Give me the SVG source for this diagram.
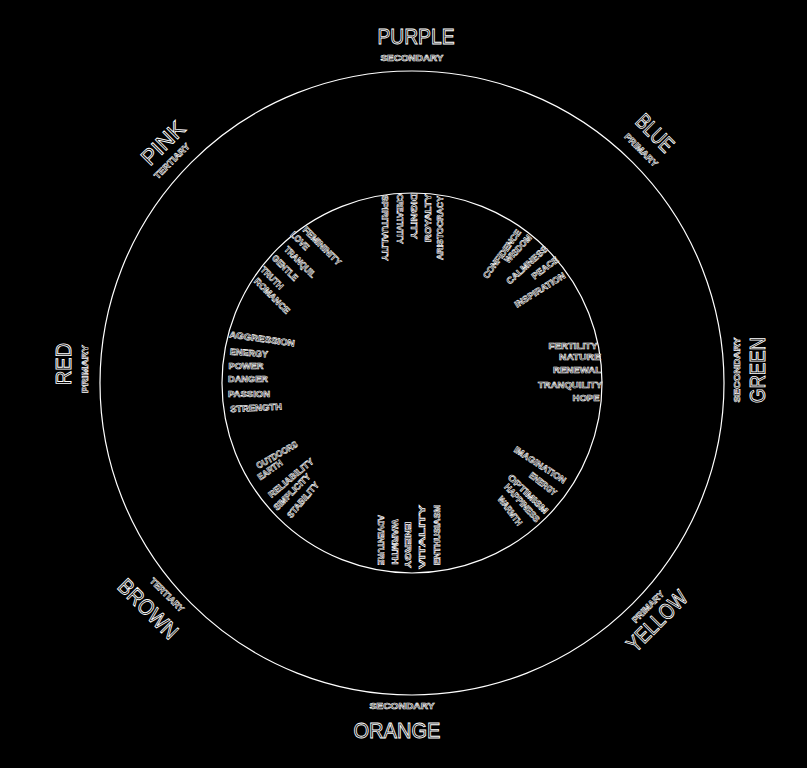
<svg xmlns="http://www.w3.org/2000/svg" width="807" height="768" viewBox="0 0 807 768">
<style>
.m{font-family:"Liberation Sans","DejaVu Sans",sans-serif;font-size:22px;fill:#000;stroke:#fff;stroke-width:0.9;text-anchor:middle;dominant-baseline:central}
.s{font-family:"Liberation Sans","DejaVu Sans",sans-serif;font-size:9px;font-weight:bold;fill:#000;stroke:#fff;stroke-width:0.6;text-anchor:middle;dominant-baseline:central}
.w{font-family:"Liberation Sans","DejaVu Sans",sans-serif;font-size:9px;font-weight:bold;fill:#000;stroke:#fff;stroke-width:0.6;text-anchor:middle;dominant-baseline:central}
.ring{fill:none;stroke:#fff;stroke-width:1.2}
</style>
<rect width="807" height="768" fill="#000"/>
<g id="rings">
<circle class="ring" cx="412" cy="383" r="312"/>
<circle class="ring" cx="412" cy="383" r="190"/>
</g>
<g id="purple">
<text class="m" transform="translate(416,36)" textLength="77" lengthAdjust="spacingAndGlyphs">PURPLE</text>
<text class="s" transform="translate(412,58)" textLength="63" lengthAdjust="spacingAndGlyphs">SECONDARY</text>
<text class="w" transform="translate(385,228) rotate(90)" textLength="66" lengthAdjust="spacingAndGlyphs">SPIRITUALITY</text>
<text class="w" transform="translate(400,219) rotate(90)" textLength="50" lengthAdjust="spacingAndGlyphs">CREATIVITY</text>
<text class="w" transform="translate(414,216) rotate(90)" textLength="46" lengthAdjust="spacingAndGlyphs">DIGNITY</text>
<text class="w" transform="translate(428,218) rotate(-90)" textLength="48" lengthAdjust="spacingAndGlyphs">ROYALTY</text>
<text class="w" transform="translate(440,228) rotate(-90)" textLength="64" lengthAdjust="spacingAndGlyphs">ARISTOCRACY</text>
</g>
<g id="blue">
<text class="m" transform="translate(655,133) rotate(45)" textLength="44" lengthAdjust="spacingAndGlyphs">BLUE</text>
<text class="s" transform="translate(641,150) rotate(45)" textLength="43" lengthAdjust="spacingAndGlyphs">PRIMARY</text>
<text class="w" transform="translate(502,254) rotate(-54)" textLength="58" lengthAdjust="spacingAndGlyphs">CONFIDENCE</text>
<text class="w" transform="translate(518,249) rotate(-47)" textLength="35" lengthAdjust="spacingAndGlyphs">WISDOM</text>
<text class="w" transform="translate(527,265) rotate(-42)" textLength="52" lengthAdjust="spacingAndGlyphs">CALMNESS</text>
<text class="w" transform="translate(545,268) rotate(-37)" textLength="31" lengthAdjust="spacingAndGlyphs">PEACE</text>
<text class="w" transform="translate(540,290) rotate(-32)" textLength="58" lengthAdjust="spacingAndGlyphs">INSPIRATION</text>
</g>
<g id="green">
<text class="m" transform="translate(757,370) rotate(-90)" textLength="66" lengthAdjust="spacingAndGlyphs">GREEN</text>
<text class="s" transform="translate(737,370) rotate(-90)" textLength="65" lengthAdjust="spacingAndGlyphs">SECONDARY</text>
<text class="w" transform="translate(573,346)" textLength="49" lengthAdjust="spacingAndGlyphs">FERTILITY</text>
<text class="w" transform="translate(580,357)" textLength="42" lengthAdjust="spacingAndGlyphs">NATURE</text>
<text class="w" transform="translate(577,370)" textLength="48" lengthAdjust="spacingAndGlyphs">RENEWAL</text>
<text class="w" transform="translate(570,385)" textLength="64" lengthAdjust="spacingAndGlyphs">TRANQUILITY</text>
<text class="w" transform="translate(586,398)" textLength="27" lengthAdjust="spacingAndGlyphs">HOPE</text>
</g>
<g id="yellow">
<text class="m" transform="translate(657,621) rotate(-45)" textLength="76" lengthAdjust="spacingAndGlyphs">YELLOW</text>
<text class="s" transform="translate(648,607) rotate(-45)" textLength="41" lengthAdjust="spacingAndGlyphs">PRIMARY</text>
<text class="w" transform="translate(540,465) rotate(33)" textLength="60" lengthAdjust="spacingAndGlyphs">IMAGINATION</text>
<text class="w" transform="translate(543,484) rotate(38)" textLength="32" lengthAdjust="spacingAndGlyphs">ENERGY</text>
<text class="w" transform="translate(528,494) rotate(44)" textLength="52" lengthAdjust="spacingAndGlyphs">OPTIMISM</text>
<text class="w" transform="translate(522,503) rotate(48)" textLength="48" lengthAdjust="spacingAndGlyphs">HAPPINESS</text>
<text class="w" transform="translate(510,511) rotate(53)" textLength="34" lengthAdjust="spacingAndGlyphs">WARMTH</text>
</g>
<g id="orange">
<text class="m" transform="translate(397,730)" textLength="87" lengthAdjust="spacingAndGlyphs">ORANGE</text>
<text class="s" transform="translate(402,706)" textLength="65" lengthAdjust="spacingAndGlyphs">SECONDARY</text>
<text class="w" transform="translate(381,540) rotate(90)" textLength="50" lengthAdjust="spacingAndGlyphs">ADVENTURE</text>
<text class="w" transform="translate(395,542) rotate(90)" textLength="45" lengthAdjust="spacingAndGlyphs">WARMTH</text>
<text class="w" transform="translate(408,545) rotate(90)" textLength="46" lengthAdjust="spacingAndGlyphs">ENERGY</text>
<text class="w" transform="translate(422,537) rotate(-90)" textLength="64" lengthAdjust="spacingAndGlyphs">VITALITY</text>
<text class="w" transform="translate(437,535) rotate(-90)" textLength="60" lengthAdjust="spacingAndGlyphs">ENTHUSIASM</text>
</g>
<g id="brown">
<text class="m" transform="translate(148,609) rotate(45)" textLength="75" lengthAdjust="spacingAndGlyphs">BROWN</text>
<text class="s" transform="translate(167,595) rotate(45)" textLength="44" lengthAdjust="spacingAndGlyphs">TERTIARY</text>
<text class="w" transform="translate(277,455) rotate(-30)" textLength="46" lengthAdjust="spacingAndGlyphs">OUTDOORS</text>
<text class="w" transform="translate(270,470) rotate(-35)" textLength="28" lengthAdjust="spacingAndGlyphs">EARTH</text>
<text class="w" transform="translate(291,478) rotate(-40)" textLength="56" lengthAdjust="spacingAndGlyphs">RELIABILITY</text>
<text class="w" transform="translate(292,492) rotate(-45)" textLength="48" lengthAdjust="spacingAndGlyphs">SIMPLICITY</text>
<text class="w" transform="translate(303,500) rotate(-50)" textLength="44" lengthAdjust="spacingAndGlyphs">STABILITY</text>
</g>
<g id="red">
<text class="m" transform="translate(63,364) rotate(-90)" textLength="42" lengthAdjust="spacingAndGlyphs">RED</text>
<text class="s" transform="translate(85,369) rotate(-90)" textLength="48" lengthAdjust="spacingAndGlyphs">PRIMARY</text>
<text class="w" transform="translate(262,339) rotate(8)" textLength="66" lengthAdjust="spacingAndGlyphs">AGGRESSION</text>
<text class="w" transform="translate(249,353) rotate(4)" textLength="38" lengthAdjust="spacingAndGlyphs">ENERGY</text>
<text class="w" transform="translate(246,366)" textLength="35" lengthAdjust="spacingAndGlyphs">POWER</text>
<text class="w" transform="translate(248,379)" textLength="40" lengthAdjust="spacingAndGlyphs">DANGER</text>
<text class="w" transform="translate(249,394)" textLength="42" lengthAdjust="spacingAndGlyphs">PASSION</text>
<text class="w" transform="translate(256,408) rotate(-3)" textLength="52" lengthAdjust="spacingAndGlyphs">STRENGTH</text>
</g>
<g id="pink">
<text class="m" transform="translate(163,143) rotate(-45)" textLength="52" lengthAdjust="spacingAndGlyphs">PINK</text>
<text class="s" transform="translate(172,161) rotate(-45)" textLength="46" lengthAdjust="spacingAndGlyphs">TERTIARY</text>
<text class="w" transform="translate(322,246) rotate(45)" textLength="50" lengthAdjust="spacingAndGlyphs">FEMININITY</text>
<text class="w" transform="translate(300,241) rotate(45)" textLength="22" lengthAdjust="spacingAndGlyphs">LOVE</text>
<text class="w" transform="translate(300,262) rotate(45)" textLength="40" lengthAdjust="spacingAndGlyphs">TRANQUIL</text>
<text class="w" transform="translate(285,268) rotate(45)" textLength="32" lengthAdjust="spacingAndGlyphs">GENTLE</text>
<text class="w" transform="translate(272,278) rotate(45)" textLength="28" lengthAdjust="spacingAndGlyphs">TRUTH</text>
<text class="w" transform="translate(272,296) rotate(45)" textLength="46" lengthAdjust="spacingAndGlyphs">ROMANCE</text>
</g>
</svg>
